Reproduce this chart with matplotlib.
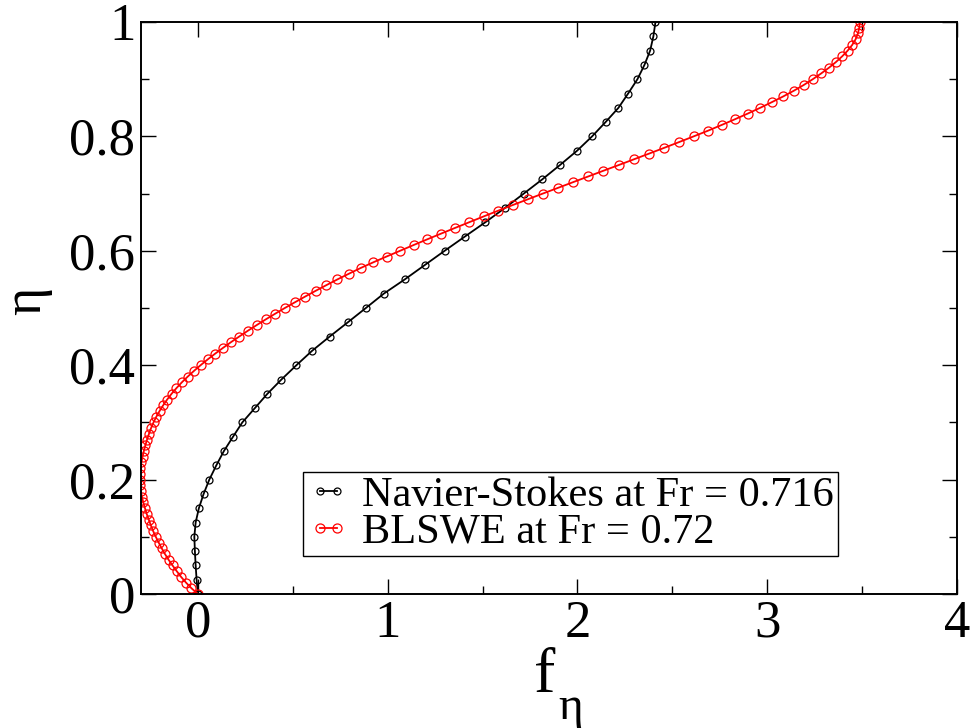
import matplotlib
matplotlib.use("Agg")
import matplotlib.pyplot as plt
from matplotlib.ticker import MultipleLocator

plt.rcParams['font.family'] = ['Liberation Serif', 'DejaVu Serif']
plt.rcParams['mathtext.fontset'] = 'custom'
plt.rcParams['mathtext.rm'] = 'Liberation Serif'
plt.rcParams['mathtext.it'] = 'Liberation Serif:italic'

# Navier-Stokes at Fr = 0.716
ns_eta = [0.000, 0.025, 0.050, 0.075, 0.100, 0.125, 0.150, 0.175, 0.200, 0.225,
          0.250, 0.275, 0.300, 0.325, 0.350, 0.375, 0.400, 0.425, 0.450, 0.475,
          0.500, 0.525, 0.550, 0.575, 0.600, 0.625, 0.650, 0.675, 0.700, 0.725,
          0.750, 0.775, 0.800, 0.825, 0.850, 0.875, 0.900, 0.925, 0.950, 0.975,
          1.000]
ns_f = [0.000, -0.007, -0.012, -0.016, -0.019, -0.012, 0.005, 0.030, 0.060, 0.097,
        0.137, 0.185, 0.234, 0.300, 0.366, 0.440, 0.519, 0.601, 0.694, 0.790,
        0.885, 0.979, 1.090, 1.195, 1.300, 1.407, 1.515, 1.618, 1.717, 1.815,
        1.908, 1.998, 2.077, 2.148, 2.216, 2.267, 2.316, 2.353, 2.383, 2.400,
        2.411]

# BLSWE at Fr = 0.72
bl_eta = [0.00, 0.01, 0.02, 0.03, 0.04, 0.05, 0.06, 0.07, 0.08, 0.09,
          0.10, 0.11, 0.12, 0.13, 0.14, 0.15, 0.16, 0.17, 0.18, 0.19,
          0.20, 0.21, 0.22, 0.23, 0.24, 0.25, 0.26, 0.27, 0.28, 0.29,
          0.30, 0.31, 0.32, 0.33, 0.34, 0.35, 0.36, 0.37, 0.38, 0.39,
          0.40, 0.41, 0.42, 0.43, 0.44, 0.45, 0.46, 0.47, 0.48, 0.49,
          0.50, 0.51, 0.52, 0.53, 0.54, 0.55, 0.56, 0.57, 0.58, 0.59,
          0.60, 0.61, 0.62, 0.63, 0.64, 0.65, 0.66, 0.67, 0.68, 0.69,
          0.70, 0.71, 0.72, 0.73, 0.74, 0.75, 0.76, 0.77, 0.78, 0.79,
          0.80, 0.81, 0.82, 0.83, 0.84, 0.85, 0.86, 0.87, 0.88, 0.89,
          0.90, 0.91, 0.92, 0.93, 0.94, 0.95, 0.96, 0.97, 0.98, 0.99,
          1.00]
bl_f = [0.000, -0.034, -0.063, -0.089, -0.112, -0.134, -0.155, -0.174, -0.191, -0.207,
        -0.222, -0.236, -0.248, -0.259, -0.270, -0.279, -0.288, -0.295, -0.301, -0.305,
        -0.307, -0.306, -0.303, -0.298, -0.292, -0.285, -0.277, -0.268, -0.258, -0.247,
        -0.234, -0.219, -0.202, -0.183, -0.162, -0.139, -0.113, -0.085, -0.054, -0.021,
        0.014, 0.051, 0.090, 0.131, 0.173, 0.217, 0.262, 0.309, 0.357, 0.407,
        0.458, 0.511, 0.565, 0.620, 0.677, 0.735, 0.796, 0.858, 0.925, 0.994,
        1.065, 1.136, 1.208, 1.281, 1.355, 1.430, 1.505, 1.581, 1.659, 1.738,
        1.817, 1.897, 1.977, 2.057, 2.137, 2.218, 2.298, 2.378, 2.457, 2.535,
        2.612, 2.688, 2.760, 2.830, 2.898, 2.963, 3.025, 3.085, 3.141, 3.193,
        3.240, 3.284, 3.325, 3.362, 3.395, 3.424, 3.448, 3.466, 3.478, 3.485,
        3.488]

labels = ["Navier-Stokes at Fr = 0.716", "BLSWE at Fr = 0.72"]
x_ticks = [0, 1, 2, 3, 4]
x_tick_labels = ["0", "1", "2", "3", "4"]
y_ticks = [0, 0.2, 0.4, 0.6, 0.8, 1.0]
y_tick_labels = ["0", "0.2", "0.4", "0.6", "0.8", "1"]

fig = plt.figure(figsize=(9.73, 7.28), dpi=100)
ax = fig.add_axes([141/973, 1 - 594/728, (957 - 141)/973, (594 - 22)/728])

ax.plot(ns_f, ns_eta, color='black', lw=1.3, marker='o', ms=5.0,
        mfc='none', mec='black', mew=0.9, label=labels[0])
ax.plot(bl_f, bl_eta, color='red', lw=1.3, marker='o', ms=6.5,
        mfc='none', mec='red', mew=0.9, label=labels[1])

ax.set_xlim(-0.3, 4.0)
ax.set_ylim(0, 1.0)
ax.set_xticks(x_ticks)
ax.set_xticklabels(x_tick_labels)
ax.set_yticks(y_ticks)
ax.set_yticklabels(y_tick_labels)
ax.xaxis.set_minor_locator(MultipleLocator(0.5))
ax.yaxis.set_minor_locator(MultipleLocator(0.1))
ax.tick_params(which='both', direction='in', top=True, right=True, width=1.0)
ax.tick_params(which='major', length=11, labelsize=38, pad=4)
ax.tick_params(which='minor', length=6)
for s in ax.spines.values():
    s.set_linewidth(1.4)

# x label "f" with subscript eta, as real text
fig.text(545/973, 1 - 692/728, 'f', fontsize=46, ha='center', va='baseline')
fig.text(571/973, 1 - 719/728, 'η', fontsize=34, ha='center', va='baseline')
# y label (mathtext gives a tight box around the glyph)
ax.set_ylabel('$\\mathregular{η}$', fontsize=39)
ax.yaxis.set_label_coords((55 - 141)/816, 0.51)

leg = ax.legend(loc='upper left', bbox_to_anchor=((303 - 141)/816, (594 - 472)/572),
                borderaxespad=0, fontsize=30.5, frameon=True, fancybox=False,
                edgecolor='black', framealpha=1, numpoints=2, handlelength=1.0,
                handletextpad=0.3, borderpad=0.1, labelspacing=-0.05)
leg.get_frame().set_linewidth(1.0)

fig.savefig('out.png', dpi=100)
